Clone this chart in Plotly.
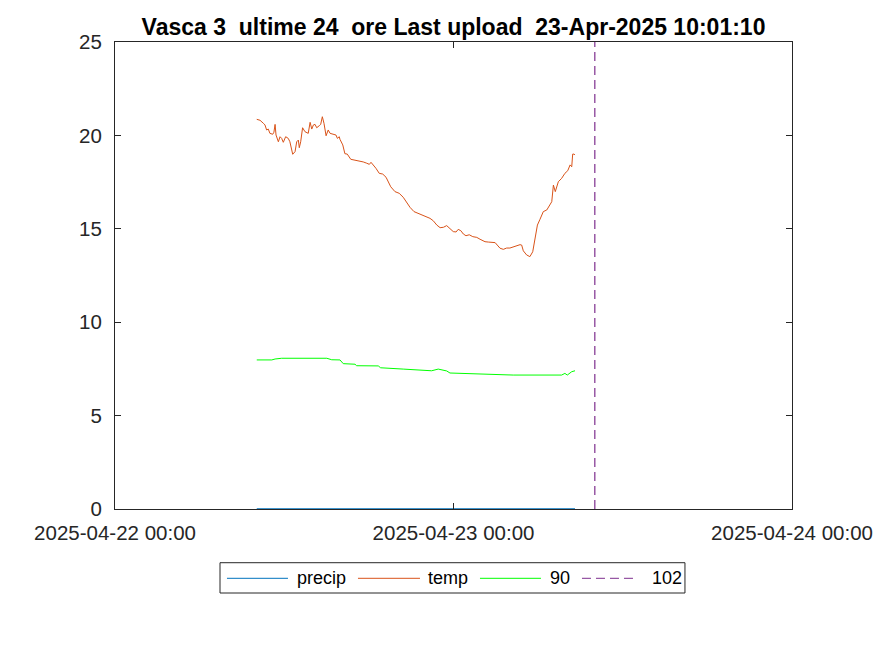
import plotly.graph_objects as go

# ---------------- data ----------------
temp_time = [
    "2025-04-22 10:03", "2025-04-22 10:17", "2025-04-22 10:31", "2025-04-22 10:38", "2025-04-22 10:45",
    "2025-04-22 10:52", "2025-04-22 10:59", "2025-04-22 11:11", "2025-04-22 11:16", "2025-04-22 11:21",
    "2025-04-22 11:25", "2025-04-22 11:35", "2025-04-22 11:42", "2025-04-22 11:49", "2025-04-22 11:56",
    "2025-04-22 12:06", "2025-04-22 12:17", "2025-04-22 12:24", "2025-04-22 12:36", "2025-04-22 12:46",
    "2025-04-22 12:53", "2025-04-22 13:00", "2025-04-22 13:04", "2025-04-22 13:10", "2025-04-22 13:18",
    "2025-04-22 13:28", "2025-04-22 13:42", "2025-04-22 13:50", "2025-04-22 13:57", "2025-04-22 14:04",
    "2025-04-22 14:11", "2025-04-22 14:18", "2025-04-22 14:29", "2025-04-22 14:35", "2025-04-22 14:42",
    "2025-04-22 14:49", "2025-04-22 14:58", "2025-04-22 15:07", "2025-04-22 15:15", "2025-04-22 15:29",
    "2025-04-22 15:40", "2025-04-22 15:46", "2025-04-22 15:54", "2025-04-22 15:57", "2025-04-22 16:09",
    "2025-04-22 16:18", "2025-04-22 16:28", "2025-04-22 16:43", "2025-04-22 17:01", "2025-04-22 17:22",
    "2025-04-22 17:36", "2025-04-22 17:51", "2025-04-22 18:02", "2025-04-22 18:09", "2025-04-22 18:19",
    "2025-04-22 18:30", "2025-04-22 18:44", "2025-04-22 18:59", "2025-04-22 19:13", "2025-04-22 19:23",
    "2025-04-22 19:33", "2025-04-22 19:51", "2025-04-22 20:09", "2025-04-22 20:26", "2025-04-22 20:41",
    "2025-04-22 20:55", "2025-04-22 21:12", "2025-04-22 21:30", "2025-04-22 21:49", "2025-04-22 22:03",
    "2025-04-22 22:20", "2025-04-22 22:34", "2025-04-22 22:49", "2025-04-22 23:03", "2025-04-22 23:17",
    "2025-04-22 23:31", "2025-04-22 23:42", "2025-04-22 23:59", "2025-04-23 00:11", "2025-04-23 00:20",
    "2025-04-23 00:31", "2025-04-23 00:42", "2025-04-23 00:53", "2025-04-23 01:07", "2025-04-23 01:22",
    "2025-04-23 01:39", "2025-04-23 01:53", "2025-04-23 02:04", "2025-04-23 02:14", "2025-04-23 02:28",
    "2025-04-23 02:42", "2025-04-23 02:57", "2025-04-23 03:06", "2025-04-23 03:18", "2025-04-23 03:32",
    "2025-04-23 03:46", "2025-04-23 04:00", "2025-04-23 04:14", "2025-04-23 04:29", "2025-04-23 04:43",
    "2025-04-23 04:50", "2025-04-23 04:57", "2025-04-23 05:11", "2025-04-23 05:25", "2025-04-23 05:37",
    "2025-04-23 05:47", "2025-04-23 05:57", "2025-04-23 06:08", "2025-04-23 06:22", "2025-04-23 06:37",
    "2025-04-23 06:51", "2025-04-23 06:58", "2025-04-23 07:05", "2025-04-23 07:13", "2025-04-23 07:26",
    "2025-04-23 07:40", "2025-04-23 07:54", "2025-04-23 08:06", "2025-04-23 08:16", "2025-04-23 08:23",
    "2025-04-23 08:27", "2025-04-23 08:33", "2025-04-23 08:37",
]
temp_vals = [
    20.86, 20.81, 20.65, 20.56, 20.29,
    20.34, 20.11, 20.06, 20.17, 20.59,
    20.02, 19.66, 19.93, 19.84, 19.63,
    19.93, 19.84, 19.66, 18.99, 19.13,
    19.66, 19.75, 19.34, 19.66, 20.41,
    20.20, 20.11, 20.70, 20.34, 20.56,
    20.59, 20.41, 20.52, 20.59, 21.00,
    20.65, 19.98, 20.29, 20.11, 20.06,
    20.02, 19.84, 19.93, 19.79, 19.49,
    19.02, 19.00, 18.72, 18.67, 18.65,
    18.58, 18.51, 18.45, 18.56, 18.42,
    18.24, 17.97, 17.93, 17.76, 17.52,
    17.25, 16.99, 16.90, 16.69, 16.40,
    16.15, 15.92, 15.83, 15.75, 15.65,
    15.56, 15.43, 15.20, 15.06, 15.08,
    15.17, 15.03, 14.85, 14.83, 14.97,
    14.90, 14.72, 14.63, 14.68, 14.58,
    14.54, 14.44, 14.36, 14.31, 14.29,
    14.26, 14.26, 14.13, 13.96, 13.90,
    13.97, 13.97, 14.04, 14.12, 14.15,
    14.13, 13.82, 13.60, 13.51, 13.77,
    14.58, 15.20, 15.51, 15.92, 16.01,
    16.27, 16.45, 17.34, 16.99, 17.52,
    17.70, 17.97, 18.11, 18.42, 18.32,
    19.00, 19.00, 18.95,
]

level_time = [
    "2025-04-22 10:03", "2025-04-22 11:07", "2025-04-22 11:21", "2025-04-22 11:49", "2025-04-22 15:01",
    "2025-04-22 15:22", "2025-04-22 15:57", "2025-04-22 16:11", "2025-04-22 17:01", "2025-04-22 17:08",
    "2025-04-22 18:40", "2025-04-22 18:50", "2025-04-22 20:26", "2025-04-22 22:06", "2025-04-22 22:27",
    "2025-04-22 22:55", "2025-04-22 23:31", "2025-04-22 23:45", "2025-04-23 02:07", "2025-04-23 04:14",
    "2025-04-23 07:40", "2025-04-23 07:54", "2025-04-23 08:04", "2025-04-23 08:23", "2025-04-23 08:37",
]
level_vals = [
    7.98, 7.98, 8.03, 8.07, 8.07,
    7.99, 7.98, 7.78, 7.75, 7.67,
    7.66, 7.56, 7.49, 7.44, 7.40,
    7.49, 7.39, 7.28, 7.24, 7.17,
    7.17, 7.26, 7.17, 7.35, 7.40,
]

precip_time = ["2025-04-22 10:03", "2025-04-23 08:37"]
precip_vals = [0, 0]

upload_time = ["2025-04-23 10:01:10", "2025-04-23 10:01:10"]
upload_y = [0, 25]

series_names = ["precip", "temp", "90", "102"]

x_range = ["2025-04-22 00:00", "2025-04-24 00:00"]
x_ticks = ["2025-04-22 00:00", "2025-04-23 00:00", "2025-04-24 00:00"]
x_tick_labels = ["2025-04-22 00:00", "2025-04-23 00:00", "2025-04-24 00:00"]
y_ticks = [0, 5, 10, 15, 20, 25]

title_text = "Vasca 3  ultime 24  ore Last upload  23-Apr-2025 10:01:10"

# ---------------- styles ----------------
FONT = "Liberation Sans, Arial, sans-serif"
AX = "#262626"
colors = ["#0072BD", "#D95319", "#00FF00", "#7E2F8E"]
dashes = ["solid", "solid", "solid", "9px,5px"]
widths = [1.5, 1, 1, 1.2]

fig = go.Figure()
series = [(precip_time, precip_vals), (temp_time, temp_vals),
          (level_time, level_vals), (upload_time, upload_y)]
for (xs, ys), name, c, d, w in zip(series, series_names, colors, dashes, widths):
    fig.add_trace(go.Scatter(x=xs, y=ys, mode="lines", name=name, showlegend=False,
                             line=dict(color=c, width=w, dash=d)))

# Hand-drawn legend box (MATLAB style, long line samples), in plot-area paper coords
leg_y = -0.1484
fig.add_shape(type="rect", xref="paper", yref="paper", x0=0.1551, x1=0.8419,
              y0=-0.1799, y1=-0.1150, line=dict(color=AX, width=1), fillcolor="white")
seg = [(0.1654, 0.2555, 0.2659), (0.3589, 0.4505, 0.4594),
       (0.5391, 0.6292, 0.6396), (0.6898, 0.7696, 0.7902)]
for (x0, x1, xt), name, c, d in zip(seg, series_names, colors, dashes):
    fig.add_shape(type="line", xref="paper", yref="paper", x0=x0, x1=x1, y0=leg_y, y1=leg_y,
                  line=dict(color=c, width=1, dash=d))
    fig.add_annotation(xref="paper", yref="paper", x=xt, y=leg_y, text=name, showarrow=False,
                       xanchor="left", yanchor="middle",
                       font=dict(size=18, color="black", family=FONT))

fig.update_layout(
    width=875, height=656,
    margin=dict(l=115, r=83, t=42, b=147, autoexpand=False),
    paper_bgcolor="white", plot_bgcolor="white",
    font=dict(family=FONT, color=AX),
    title=dict(text="<b>" + title_text + "</b>", x=0.5, xref="paper", xanchor="center",
               y=1 - 27 / 656, yanchor="middle", font=dict(size=23, color="black", family=FONT)),
    showlegend=False,
    xaxis=dict(type="date", range=x_range, tickvals=x_ticks, ticktext=x_tick_labels,
               automargin=False,
               showgrid=False, zeroline=False, showline=True, linecolor=AX, linewidth=1,
               mirror="ticks", ticks="inside", ticklen=6, tickcolor=AX,
               ticklabelstandoff=5, tickfont=dict(size=20.5, color=AX)),
    yaxis=dict(range=[0, 25], tickvals=y_ticks, showgrid=False, zeroline=False,
               automargin=False,
               showline=True, linecolor=AX, linewidth=1, mirror="ticks",
               ticks="inside", ticklen=6, tickcolor=AX,
               ticklabelstandoff=8, tickfont=dict(size=20.5, color=AX)),
)

fig.write_html(
    "out.html",
    config={"displayModeBar": False},
    post_script="document.body.style.margin='0';"
                "document.documentElement.style.overflow='hidden';",
)
